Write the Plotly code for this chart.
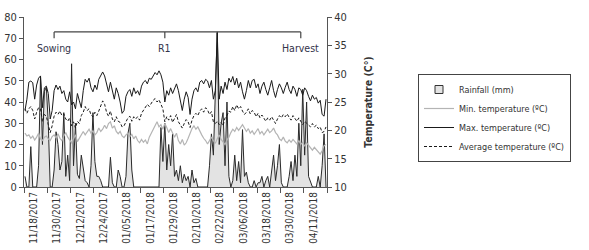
import numpy as np
import pandas as pd
import plotly.graph_objects as go

start_date = "2017-11-18"
rain = [5,0,0,19,0,0,0,10,52,20,45,47,30,0,0,8,26,20,8,12,
        35,5,15,3,58,10,30,6,4,15,8,3,2,0,10,35,12,5,5,3,
        0,0,0,0,14,2,0,0,8,5,0,0,5,25,30,8,0,0,0,0,
        0,0,0,0,0,0,0,0,0,0,28,12,30,8,20,10,25,5,8,3,
        10,2,6,3,5,0,8,2,4,0,0,0,0,0,0,10,25,15,40,73,
        20,30,35,10,40,5,0,3,15,3,12,2,27,5,7,2,0,0,3,0,
        2,2,5,0,3,5,0,8,15,3,10,20,2,0,0,0,5,12,3,15,
        5,30,10,46,15,40,5,2,0,0,0,5,0,10,25,0]
tmax = [23.5,25.5,28.5,28.7,28.4,25.5,28,29.2,29.6,24,27.5,27.8,26.5,22,23.5,27,28,27.2,27.8,26.5,
        27,25.5,25,26.8,24.5,25,23.8,26.5,25.2,24,27,29,28.5,29.2,27.5,26.8,28,27.2,29,29.8,
        30.3,29.6,28,26.8,28.5,27,25.5,27.5,26.5,25,23,23.5,26,26.8,27.2,26,27.5,26.5,27,26.2,
        27.8,28.5,28.8,28.2,29.2,29,29.5,30.2,29.8,30.5,29.8,28.5,25,27,26.2,27.5,26.5,27.2,28.2,27,
        25.5,23.5,25.5,26.8,25.8,22.8,25.5,27,27.5,26.8,28.5,28.8,28.2,29,28.7,27.5,28.8,25.5,27,37.2,
        25.5,27.8,26.5,28.5,27.2,29.2,28.5,29.5,28,29.2,27.5,28.5,26.8,25.5,27,28.8,27.5,28.8,29,27.5,
        28.2,26.5,27.8,28.5,27.2,26.2,27.5,28.8,27,25.8,27.2,28.2,27.5,26.5,27.6,28.5,27.2,26.5,27.8,27.2,
        26,27.5,27.2,26.2,27.5,27,26,25.2,26.2,25.5,25.8,24.8,25.3,22.8,22.5,25.5]
tmin = [19.5,19,19.2,18.6,19,18.3,18.8,19.5,18.5,18.2,18.8,19,18.5,18.2,18.9,19.2,18.7,19.4,18.6,18.2,
        19,19.6,18.8,18.3,17.8,18.5,19.2,18,18.6,19.4,19.8,19.2,19.6,20.2,19.5,19.9,19.2,19.6,20.4,19.8,
        20.2,20.9,20.3,21.2,21.5,20.4,20.8,19.8,19.4,19.8,19,18.7,19.2,19.5,18.9,19.3,18.5,19,18.2,17.8,
        18.4,17.9,18.3,17.6,18.8,19.5,20.2,20.8,21.5,20.6,21,20.2,21.2,20.5,19.6,20.3,19.4,18.8,19.5,18.2,
        17.6,18.4,17.4,17.8,18.6,19.5,20.3,20.8,20.2,20.6,19.8,19.2,18.6,18.2,17.6,18.2,18.8,18.2,17.7,18.5,
        19.2,18.4,17.9,17.5,18.3,18.8,19.6,20.2,19.8,20.5,20,20.6,21,20.4,19.8,20.3,19.5,19.9,19.3,19.8,
        20.3,19.4,19.8,19.2,19.7,20.2,19.6,19.9,20.4,19.6,19.2,18.5,18.2,18.8,18.1,17.8,18.3,17.9,18.4,18,
        17.6,18.2,17.5,17.9,17.2,17.8,17.4,17,16.5,17,16.6,16.2,15.8,16.4,17.3,17.5]
tavg = [23.8,23,23.8,24.2,23.5,22,23.2,24,23.8,21.5,22.8,22.5,21,19.6,20.8,22.5,23.2,22.8,23.4,22.6,
        22.9,22,21.6,22.2,20.8,21.5,20.4,21.6,21.2,22.6,23.2,24.2,23.5,23.8,22.7,22.4,23.2,22.6,23.4,24.2,
        25.2,24.6,23.2,22.5,23.4,22,21.5,22.4,21.6,21.4,20.6,20.8,21.5,22.2,22.5,21.6,22.4,22,22.4,21.8,
        23,23.5,24,24.6,24.2,24.9,25.3,25.6,25,25.4,24.6,23.8,21.5,22.4,21.8,22.6,21.4,22,22.8,21.5,
        20.8,20.4,21.2,21.9,21.5,20.5,21.8,22.6,23,22.6,23.4,23.8,23.2,24,23.6,22.8,23.3,21.5,21.2,21.6,
        21,21.4,20.8,22.2,22.6,23.4,23.2,24.2,23.5,24.5,23.8,24.2,23.4,22.8,23.2,23.8,22.9,23.5,23.2,22.4,
        23,22.2,22.7,22,21.6,22.2,21.8,22.4,21.9,21.2,22,22.6,22.2,22.8,22.4,22.9,22.3,21.8,22.6,22.2,
        21.6,22.2,21.5,21,21.6,21.2,20.8,20.6,21.2,20.6,20.9,20.3,20.6,19.6,19.8,20.6]

stage_labels = ["Sowing", "R1", "Harvest"]
stage_dates = ["2017-12-03", "2018-01-29", "2018-04-09"]
bracket_level = 73
tick_every = 12

n = len(rain)
dates = pd.date_range(start_date, periods=n, freq="D")
x = np.arange(n)
tick_idx = list(range(0, n, tick_every))
tick_text = [dates[i].strftime("%m/%d/%Y") for i in tick_idx]
stage_idx = [(pd.Timestamp(d) - dates[0]).days for d in stage_dates]

W, H = 589, 250
FONT = "DejaVu Sans Condensed, Liberation Sans Narrow, Arial Narrow, sans-serif"
fig = go.Figure()
fig.add_trace(go.Scatter(x=x, y=rain, mode="lines", fill="tozeroy",
                         fillcolor="#e3e3e3", line=dict(color="#2a2a2a", width=1),
                         showlegend=False, yaxis="y"))
fig.add_trace(go.Scatter(x=[None], y=[None], mode="markers", name="Rainfall (mm)",
                         marker=dict(symbol="square", size=8, color="#e3e3e3",
                                     line=dict(color="#333", width=1)), yaxis="y"))
fig.add_trace(go.Scatter(x=x, y=tmin, mode="lines", name="Min. temperature (ºC)",
                         line=dict(color="#b4b4b4", width=1.2), yaxis="y2"))
fig.add_trace(go.Scatter(x=x, y=tmax, mode="lines", name="Max. temperature (ºC)",
                         line=dict(color="#1a1a1a", width=1), yaxis="y2"))
fig.add_trace(go.Scatter(x=x, y=tavg, mode="lines", name="Average temperature (ºC)",
                         line=dict(color="#1a1a1a", width=1, dash="3px,2px"), yaxis="y2"))

fig.add_shape(type="line", xref="x", yref="y", x0=stage_idx[0], x1=stage_idx[-1],
              y0=bracket_level, y1=bracket_level, line=dict(color="#444", width=1.2))
for si, lab in zip(stage_idx, stage_labels):
    fig.add_shape(type="line", xref="x", yref="y", x0=si, x1=si,
                  y0=bracket_level, y1=bracket_level - 3, line=dict(color="#444", width=1.2))
    fig.add_annotation(x=si, y=bracket_level - 7.5, xref="x", yref="y", text=lab,
                       showarrow=False, font=dict(size=10.5, color="#33334a", family=FONT))

fig.update_layout(
    width=W, height=H, margin=dict(l=24, r=262, t=17, b=63),
    paper_bgcolor="white", plot_bgcolor="white",
    font=dict(family=FONT, size=11, color="#333"),
    xaxis=dict(range=[-0.5, n - 0.5], tickmode="array", automargin=False,
               tickvals=[i + 4.5 for i in tick_idx], ticktext=tick_text,
               tickangle=-90, ticks="", showgrid=False, zeroline=False,
               showline=True, linecolor="#555", linewidth=1,
               tickfont=dict(size=10),
               minor=dict(tickmode="array", tickvals=[i - 0.5 for i in tick_idx] + [n - 0.5],
                          ticks="outside", ticklen=5, tickcolor="#555", showgrid=False)),
    yaxis=dict(range=[0, 80], dtick=10, ticks="outside", ticklen=4, tickcolor="#555",
               showline=True, linecolor="#555", showgrid=False, zeroline=False,
               automargin=False, tickfont=dict(size=11)),
    yaxis2=dict(range=[10, 40], dtick=5, overlaying="y", side="right", ticks="outside",
                ticklen=4, tickcolor="#555", showline=True, linecolor="#555",
                showgrid=False, zeroline=False, tickfont=dict(size=11), automargin=False,
                title=dict(text="<b>Temperature (C°)</b>", font=dict(size=10.5), standoff=18)),
    legend=dict(xref="container", yref="container", x=418 / W, y=1 - 74 / H,
                xanchor="left", yanchor="top",
                bordercolor="#444", borderwidth=1, bgcolor="white",
                font=dict(size=9), tracegroupgap=0),
)
fig.write_html("out.html", config={"displayModeBar": False},
               post_script="document.body.style.margin='0px';")
